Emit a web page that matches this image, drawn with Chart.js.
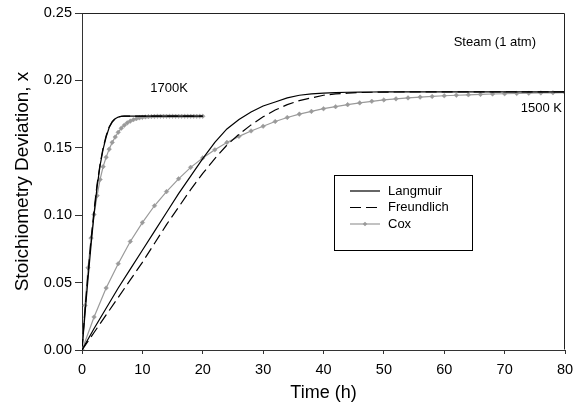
<!DOCTYPE html>
<html><head><meta charset="utf-8">
<script src="https://cdn.jsdelivr.net/npm/chart.js@4.4.1/dist/chart.umd.min.js"></script>
<style>html,body{margin:0;padding:0;background:#fff;}#wrap{width:587px;height:406px;position:relative;}</style>
</head><body><div id="wrap"><canvas id="c" width="587" height="406"></canvas></div>
<script>
// ---- data ----
const time1500 = [0,2,4,6,8,10,12,14,16,18,20,22,24,26,28,30,32,34,36,38,40,42,44,46,48,50,52,54,56,58,60,62,64,66,68,70,72,74,76,78,80];
const langmuir1500 = [0,0.016,0.031,0.046,0.060,0.074,0.088,0.102,0.116,0.129,0.142,0.154,0.164,0.171,0.1765,0.181,0.184,0.187,0.189,0.190,0.1905,0.191,0.1912,0.1913,0.1914,0.1915,0.1915,0.1915,0.1915,0.1915,0.1915,0.1915,0.1915,0.1915,0.1915,0.1915,0.1915,0.1915,0.1915,0.1915,0.1915];
const freundlich1500 = [0,0.013,0.026,0.039,0.052,0.065,0.079,0.093,0.106,0.119,0.131,0.142,0.152,0.160,0.167,0.173,0.178,0.182,0.185,0.187,0.189,0.190,0.1905,0.191,0.1912,0.1913,0.1914,0.1915,0.1915,0.1915,0.1915,0.1915,0.1915,0.1915,0.1915,0.1915,0.1915,0.1915,0.1915,0.1915,0.1915];
const cox1500 = [0,0.0245,0.046,0.064,0.0805,0.0945,0.107,0.1175,0.127,0.1355,0.1425,0.1485,0.154,0.1585,0.1625,0.166,0.1695,0.1725,0.175,0.177,0.179,0.1805,0.182,0.1833,0.1845,0.1855,0.1863,0.187,0.1876,0.1881,0.1886,0.189,0.1893,0.1896,0.1899,0.1901,0.1903,0.1905,0.1907,0.1908,0.191];

const time1700 = [0,0.5,1,1.5,2,2.5,3,3.5,4,4.5,5,5.5,6,6.5,7,7.5,8,8.5,9,9.5,10,10.5,11,11.5,12,12.5,13,13.5,14,14.5,15,15.5,16,16.5,17,17.5,18,18.5,19,19.5,20];
const langmuir1700 = [0,0.027,0.053,0.078,0.101,0.121,0.137,0.149,0.158,0.165,0.169,0.1715,0.1728,0.1733,0.1735,0.1735,0.1735,0.1735,0.1735,0.1735,0.1735,0.1735,0.1735,0.1735,0.1735,0.1735,0.1735,0.1735,0.1735,0.1735,0.1735,0.1735,0.1735,0.1735,0.1735,0.1735,0.1735,0.1735,0.1735,0.1735,0.1735];
const freundlich1700 = [0,0.030,0.057,0.082,0.104,0.123,0.138,0.150,0.159,0.1655,0.1695,0.1718,0.1729,0.1734,0.1735,0.1735,0.1735,0.1735,0.1735,0.1735,0.1735,0.1735,0.1735,0.1735,0.1735,0.1735,0.1735,0.1735,0.1735,0.1735,0.1735,0.1735,0.1735,0.1735,0.1735,0.1735,0.1735,0.1735,0.1735,0.1735,0.1735];
const cox1700 = [0,0.033,0.061,0.083,0.1005,0.1145,0.1265,0.136,0.143,0.149,0.154,0.158,0.1615,0.1645,0.1667,0.1685,0.1698,0.1708,0.1716,0.1722,0.1726,0.1729,0.1731,0.1732,0.1733,0.1734,0.1734,0.1734,0.1734,0.1734,0.1734,0.1734,0.1734,0.1734,0.1734,0.1734,0.1734,0.1734,0.1734,0.1734,0.1734];

const xTickValues = [0,10,20,30,40,50,60,70,80];
const yTickValues = [0,0.05,0.10,0.15,0.20,0.25];
const seriesNames = ['Langmuir','Freundlich','Cox'];
const xTitle = 'Time (h)';
const yTitle = 'Stoichiometry Deviation, x';
const noteTexts = ['1700K','1500 K','Steam (1 atm)'];
const noteX = [11.3, 79.5, 75.2];
const noteY = [0.1944, 0.1795, 0.2285];

// ---- styles ----
const FONT = '"Liberation Sans", Arial, Helvetica, sans-serif';
const GREY = '#9a9a9a';
const DASH = [11,5];

function pts(xs, ys){ return xs.map((x,i)=>({x:x, y:ys[i]})); }

function lineDs(label, xs, ys, kind){
  const base = {label: label, data: pts(xs, ys), fill:false, tension:0, borderWidth:1.2, pointRadius:0};
  if (kind === 'L') { base.borderColor = '#000'; }
  if (kind === 'F') { base.borderColor = '#000'; base.borderDash = DASH; }
  if (kind === 'C') { base.borderColor = GREY; base.borderWidth = 1.2; base.pointRadius = 2.3; base.pointStyle = 'rectRot'; base.pointBackgroundColor = GREY; base.pointBorderColor = GREY; base.pointBorderWidth = 0.5; }
  return base;
}

const datasets = [
  lineDs(seriesNames[0], time1500, langmuir1500, 'L'),
  lineDs(seriesNames[1], time1500, freundlich1500, 'F'),
  lineDs(seriesNames[2], time1500, cox1500, 'C'),
  lineDs(seriesNames[0], time1700, langmuir1700, 'L'),
  lineDs(seriesNames[1], time1700, freundlich1700, 'F'),
  lineDs(seriesNames[2], time1700, cox1700, 'C')
];

const framePlugin = {
  id:'frame',
  afterDatasetsDraw(chart){
    const {ctx, chartArea:a} = chart;
    ctx.save();
    ctx.strokeStyle = '#222';
    ctx.lineWidth = 1;
    ctx.beginPath();
    ctx.moveTo(Math.round(a.left)+0.5, Math.round(a.top)+0.5);
    ctx.lineTo(Math.round(a.right)-0.5, Math.round(a.top)+0.5);
    ctx.lineTo(Math.round(a.right)-0.5, Math.round(a.bottom)-0.5);
    ctx.stroke();
    // annotations
    const xs = chart.scales.x, ys = chart.scales.y;
    ctx.fillStyle = '#000';
    ctx.font = '13px ' + FONT;
    ctx.textBaseline = 'middle';
    noteTexts.forEach((t,i)=>{
      ctx.textAlign = i === 0 ? 'left' : 'right';
      ctx.fillText(t, xs.getPixelForValue(noteX[i]), ys.getPixelForValue(noteY[i]));
    });
    // legend
    const bx = 334.5, by = 175.5, bw = 138, bh = 75;
    ctx.strokeStyle = '#000';
    ctx.strokeRect(bx, by, bw, bh);
    const rows = [191, 207.5, 224];
    ctx.textAlign = 'left';
    ctx.font = '13px ' + FONT;
    seriesNames.forEach((n,i)=>{
      const y = rows[i];
      ctx.save();
      ctx.lineWidth = 1.2;
      if (i === 0) { ctx.strokeStyle = '#000'; }
      if (i === 1) { ctx.strokeStyle = '#000'; ctx.setLineDash(DASH); }
      if (i === 2) { ctx.strokeStyle = GREY; }
      ctx.beginPath(); ctx.moveTo(350, y); ctx.lineTo(380, y); ctx.stroke();
      if (i === 2) {
        ctx.fillStyle = GREY;
        ctx.beginPath(); ctx.moveTo(365, y-2.3); ctx.lineTo(367.3, y); ctx.lineTo(365, y+2.3); ctx.lineTo(362.7, y); ctx.closePath(); ctx.fill();
      }
      ctx.restore();
      ctx.fillStyle = '#000';
      ctx.fillText(n, 388, y);
    });
    ctx.restore();
  }
};

new Chart(document.getElementById('c'), {
  type:'line',
  data:{datasets: datasets},
  plugins:[framePlugin],
  options:{
    responsive:false,
    animation:false,
    devicePixelRatio:1,
    layout:{padding:{top:13, right:22, bottom:0, left:0}},
    plugins:{legend:{display:false}, tooltip:{enabled:false}},
    scales:{
      x:{
        type:'linear', min:0, max:80,
        afterFit(s){ s.height = 56; },
        afterBuildTicks(s){ s.ticks = xTickValues.map(v=>({value:v})); },
        grid:{display:true, drawOnChartArea:false, drawTicks:true, tickLength:4, color:'#333', tickWidth:1},
        border:{display:true, color:'#333', width:1},
        ticks:{color:'#000', padding:7, font:{family:FONT, size:14.5}, maxRotation:0, callback:(v)=>String(v)},
        title:{display:true, text:xTitle, color:'#000', font:{family:FONT, size:18}, padding:{top:0, bottom:2}}
      },
      y:{
        type:'linear', min:0, max:0.25,
        afterFit(s){ s.width = 82; },
        afterBuildTicks(s){ s.ticks = yTickValues.map(v=>({value:v})); },
        grid:{display:true, drawOnChartArea:false, drawTicks:true, tickLength:7, color:'#333', tickWidth:1},
        border:{display:true, color:'#333', width:1},
        ticks:{color:'#000', padding:3, font:{family:FONT, size:14.5}, callback:(v)=>Number(v).toFixed(2)},
        title:{display:true, text:yTitle, color:'#000', font:{family:FONT, size:19}, padding:{top:11, bottom:0}}
      }
    }
  }
});
</script></body></html>
